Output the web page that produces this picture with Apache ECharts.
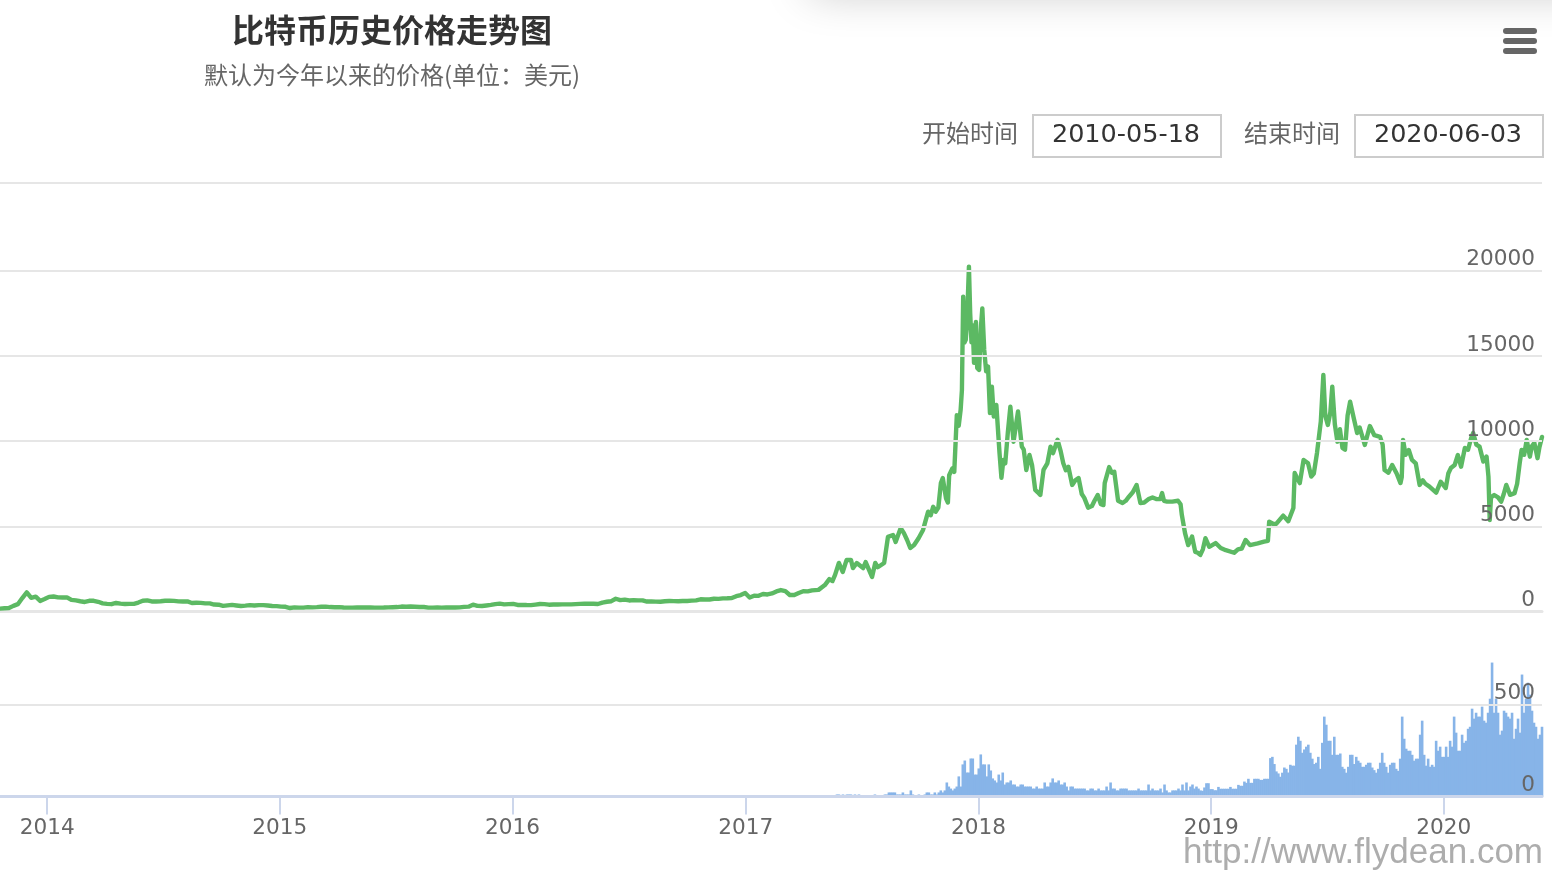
<!DOCTYPE html>
<html><head><meta charset="utf-8">
<style>html,body{margin:0;padding:0;background:#fff}#c{width:1552px;height:880px}</style>
<script src="https://cdn.jsdelivr.net/npm/echarts@6/dist/echarts.min.js"></script>
</head><body><div id="c"></div>
<script>
const titleText = '比特币历史价格走势图';
const subtitleText = '默认为今年以来的价格(单位：美元)';
const startLabel = '开始时间', endLabel = '结束时间';
const startValue = '2010-05-18', endValue = '2020-06-03';
const watermark = 'http://www.flydean.com';
const yearTicks = ['2014-01-01','2015-01-01','2016-01-01','2017-01-01','2018-01-01','2019-01-01','2020-01-01'];

// weekly closes from 2013-10-19
const earlyPrices = [170,190,205,330,430,790,1120,800,870,620,730,860,880,830,820,830,680,650,600,560,630,630,570,480,450,430,500,460,440,450,450,525,630,655,590,590,600,630,635,625,595,585,590,500,515,505,480,475,410,400,330,362,390,355,325,345,375,350,375,375,350,320,315,285,275,205,245,225,225,255,245,255,275,285,260,250,255,235,225,230,235,243,237,240,230,225,232,245,250,260,290,280,290,280,265,262,230,230,235,230,233,235,238,245,270,285,400,330,325,355,390,435,465,420,435,450,385,390,378,375,405,440,433,400,412,408,418,420,420,430,445,455,460,455,440,525,570,605,750,665,700,650,665,655,655,585,585,580,570,600,620,608,605,615,620,640,655,715,705,705,750,740,770,775,790,900,965,1090,820,925,920,1030,1000,1060,1180,1260,1200,970,970,1090,1190,1180,1240];
const lateDates = ['2017-04-25','2017-05-05','2017-05-12','2017-05-17','2017-05-21','2017-05-27','2017-06-02','2017-06-08','2017-06-15','2017-06-18','2017-06-24','2017-07-04','2017-07-08','2017-07-18','2017-07-23','2017-07-27','2017-08-06','2017-08-12','2017-08-20','2017-08-24','2017-09-01','2017-09-06','2017-09-11','2017-09-16','2017-09-22','2017-09-29','2017-10-06','2017-10-12','2017-10-14','2017-10-18','2017-10-22','2017-10-26','2017-10-30','2017-11-03','2017-11-06','2017-11-11','2017-11-14','2017-11-16','2017-11-21','2017-11-24','2017-11-28','2017-12-01','2017-12-04','2017-12-06','2017-12-08','2017-12-10','2017-12-12','2017-12-14','2017-12-17','2017-12-19','2017-12-21','2017-12-23','2017-12-25','2017-12-28','2017-12-30','2018-01-02','2018-01-05','2018-01-07','2018-01-10','2018-01-13','2018-01-16','2018-01-19','2018-01-22','2018-01-25','2018-01-29','2018-02-03','2018-02-06','2018-02-09','2018-02-12','2018-02-16','2018-02-20','2018-02-25','2018-03-01','2018-03-04','2018-03-10','2018-03-13','2018-03-17','2018-03-22','2018-03-26','2018-03-31','2018-04-04','2018-04-08','2018-04-13','2018-04-19','2018-04-24','2018-04-28','2018-05-05','2018-05-10','2018-05-14','2018-05-18','2018-05-22','2018-05-28','2018-06-02','2018-06-07','2018-06-12','2018-06-16','2018-06-22','2018-06-28','2018-07-02','2018-07-07','2018-07-12','2018-07-16','2018-07-18','2018-07-25','2018-07-29','2018-08-02','2018-08-08','2018-08-15','2018-08-20','2018-08-25','2018-08-31','2018-09-06','2018-09-12','2018-09-18','2018-09-25','2018-10-01','2018-10-07','2018-10-13','2018-10-16','2018-10-19','2018-10-24','2018-11-01','2018-11-10','2018-11-14','2018-11-16','2018-11-21','2018-11-26','2018-12-02','2018-12-07','2018-12-11','2018-12-15','2018-12-19','2018-12-23','2018-12-29','2019-01-08','2019-01-16','2019-01-24','2019-02-06','2019-02-12','2019-02-18','2019-02-24','2019-03-03','2019-03-15','2019-03-25','2019-03-31','2019-04-02','2019-04-08','2019-04-13','2019-04-24','2019-05-02','2019-05-10','2019-05-12','2019-05-15','2019-05-20','2019-05-26','2019-06-02','2019-06-07','2019-06-11','2019-06-16','2019-06-22','2019-06-26','2019-06-29','2019-07-03','2019-07-07','2019-07-10','2019-07-14','2019-07-18','2019-07-22','2019-07-26','2019-07-30','2019-08-03','2019-08-07','2019-08-13','2019-08-18','2019-08-22','2019-08-30','2019-09-07','2019-09-14','2019-09-23','2019-09-27','2019-09-30','2019-10-06','2019-10-12','2019-10-19','2019-10-25','2019-10-27','2019-10-29','2019-11-02','2019-11-07','2019-11-12','2019-11-18','2019-11-24','2019-11-29','2019-12-03','2019-12-09','2019-12-20','2019-12-27','2020-01-04','2020-01-08','2020-01-12','2020-01-18','2020-01-23','2020-01-28','2020-02-03','2020-02-08','2020-02-13','2020-02-16','2020-02-21','2020-02-26','2020-03-03','2020-03-08','2020-03-10','2020-03-11','2020-03-13','2020-03-15','2020-03-20','2020-03-26','2020-03-31','2020-04-04','2020-04-08','2020-04-14','2020-04-21','2020-04-25','2020-04-29','2020-05-02','2020-05-06','2020-05-10','2020-05-15','2020-05-18','2020-05-22','2020-05-27','2020-05-30','2020-06-03'];
const latePrices = [1270,1550,1900,1790,2150,2850,2320,3020,3020,2550,2850,2550,2900,2030,2850,2600,2850,4380,4490,4080,4900,4600,4200,3730,3900,4300,4790,5600,5860,5650,6150,5860,6100,7540,7840,6650,6400,8000,8400,8200,11530,10900,11840,13000,18490,15800,15950,17000,20250,17500,15800,16800,14600,17000,14300,14180,16800,17800,15360,14100,14380,11650,13200,11440,12130,9300,7850,8900,8700,10500,12030,9970,11000,11740,9680,9500,8310,9190,8600,7140,7000,6840,8310,8700,9680,9300,10080,9400,8700,8300,8500,7430,7700,7840,6900,6670,6100,6190,6500,6840,6300,6250,7540,8480,8150,8210,6500,6370,6500,6740,7000,7430,6370,6400,6600,6700,6600,6600,6950,6500,6450,6450,6500,6300,5670,4600,3900,4400,3500,3450,3320,3650,4300,3800,4020,3730,3600,3450,3650,3700,4200,3900,4000,4100,4150,5270,5150,5140,5630,5300,6080,8130,7900,7540,8900,8700,7920,8100,9300,11150,13890,11500,10950,11700,13200,11000,9970,10700,9600,9500,11500,12320,11300,10480,10800,9780,10890,10350,10250,9800,8310,8150,8600,8100,7540,7900,10070,9200,9480,8900,8700,7430,7700,7500,7350,6980,7620,7250,8100,8420,8600,9190,8500,9600,9500,10200,10480,9800,9680,8800,9100,9190,7920,5370,6700,6840,6700,6450,6900,7430,6850,6950,7500,8700,9480,9200,10070,9090,9700,9900,9000,9650,10250];

// volume bars, oldest first
const volumes = [11,11,0,11,0,11,11,11,0,11,0,11,0,0,0,0,0,0,0,11,0,0,0,0,11,11,22,22,22,22,11,11,11,22,11,11,11,33,11,0,0,11,0,0,11,22,22,11,11,22,11,22,33,22,33,76,54,43,33,43,54,109,54,174,195,130,130,206,206,119,119,152,228,174,174,109,174,141,98,87,76,119,87,130,65,76,76,87,65,65,54,54,65,65,54,54,54,54,43,43,54,43,43,43,76,54,54,76,98,76,76,87,65,65,76,54,33,54,54,43,43,43,43,43,43,33,33,43,43,33,33,43,33,33,33,54,33,76,43,43,33,33,43,43,43,43,33,33,33,33,33,43,33,33,33,33,65,33,43,33,33,33,43,22,65,33,22,22,33,33,33,43,33,65,33,76,33,54,65,43,54,43,33,31,49,72,72,40,40,34,34,52,42,42,42,42,42,52,42,42,42,63,58,58,81,74,96,74,74,96,96,96,90,90,96,96,96,208,215,176,136,125,107,129,157,150,130,172,167,167,281,324,302,237,255,270,281,237,205,176,183,215,150,291,433,389,302,302,226,324,226,226,233,161,150,129,161,226,226,176,215,194,183,161,161,172,183,183,157,143,129,150,183,237,183,161,129,172,183,183,150,139,205,433,313,259,248,248,226,194,205,205,335,411,226,167,205,161,172,161,302,248,270,215,215,270,215,302,270,433,346,248,248,335,291,302,367,378,476,422,454,433,433,487,411,400,454,530,726,454,530,454,335,357,465,454,433,422,454,313,367,422,346,661,454,530,617,552,465,400,378,313,335,378];
const volumeFirstDate = '2017-05-24', lastDate = '2020-06-03', firstDate = '2013-10-19';

const DAY = 864e5;
const ts = d => Date.parse(d+'T00:00:00Z');
const priceData = earlyPrices.map((v,i)=>[ts(firstDate)+i*7*DAY,v])
  .concat(lateDates.map((d,i)=>[ts(d),latePrices[i]]));
const vs = ts(volumeFirstDate), ve = ts(lastDate);
const volumeData = volumes.map((v,i)=>[vs+(ve-vs)*i/(volumes.length-1),v]);
const tickStamps = yearTicks.map(ts);

const numFont = '"DejaVu Sans"', cjk = '"Noto Sans CJK SC"';
const xMin = ts(firstDate), xMax = ve;
const chart = echarts.init(document.getElementById('c'), null, {renderer:'canvas'});
const yLabel = {inside:true, margin:7, color:'#666', fontFamily:numFont, fontSize:21.6, verticalAlign:'bottom', padding:[0,0,0,0]};
chart.setOption({
  animation:false,
  backgroundColor:'#fff',
  title:[
    {text:titleText, left:387, top:9, textAlign:'center', textStyle:{fontFamily:cjk, fontSize:32, fontWeight:'bold', color:'#333'}},
    {text:subtitleText, left:387, top:58, textAlign:'center', textStyle:{fontFamily:cjk, fontSize:24, fontWeight:'normal', color:'#666'}}
  ],
  grid:[
    {left:0, right:10, top:185.7, height:425.8},
    {left:0, right:10, top:612, height:184.5}
  ],
  xAxis:[
    {type:'value', gridIndex:0, min:xMin, max:xMax, z:3, axisLabel:{show:false}, axisTick:{show:false}, splitLine:{show:false},
     axisLine:{show:true, lineStyle:{color:'#e6e6e6', width:3}}},
    {type:'value', gridIndex:1, min:xMin, max:xMax, z:3, splitLine:{show:false},
     axisLine:{show:true, lineStyle:{color:'#ccd6eb', width:3}},
     axisTick:{show:true, length:18, customValues:tickStamps, lineStyle:{color:'#ccd6eb', width:2}},
     axisLabel:{customValues:tickStamps, formatter:v=>String(new Date(v).getUTCFullYear()), color:'#666', fontFamily:numFont, fontSize:21.6, margin:21, hideOverlap:false}}
  ],
  yAxis:[
    {type:'value', gridIndex:0, position:'right', min:0, max:25000, interval:5000, z:5,
     axisLine:{show:false}, axisTick:{show:false},
     splitLine:{showMinLine:false, showMaxLine:false, lineStyle:{color:'#e6e6e6', width:2}},
     axisLabel:{...yLabel, formatter:v=>v>20000?'':String(v)}},
    {type:'value', gridIndex:1, position:'right', min:0, max:1000, interval:500, z:5,
     axisLine:{show:false}, axisTick:{show:false},
     splitLine:{showMinLine:false, lineStyle:{color:'#e6e6e6', width:2}},
     axisLabel:{...yLabel, formatter:v=>v>500?'':String(v)}}
  ],
  series:[
    {type:'line', name:'价格', xAxisIndex:0, yAxisIndex:0, data:priceData, showSymbol:false, symbol:'none', smooth:false, z:4,
     lineStyle:{color:'#5cb963', width:4.4, join:'round', cap:'round'}},
    {type:'bar', name:'成交量', xAxisIndex:1, yAxisIndex:1, data:volumeData, barWidth:2.6, itemStyle:{color:'#87b4e8'}}
  ],
  graphic:[
    {type:'rect', silent:true, shape:{x:810,y:-40,width:900,height:30}, style:{fill:'#fff', shadowBlur:45, shadowColor:'rgba(0,0,0,0.28)'}},
    {type:'rect', silent:true, shape:{x:0,y:182,width:1542,height:2}, style:{fill:'#e6e6e6'}},
    {type:'rect', silent:true, shape:{x:1503,y:28,width:34,height:6,r:3}, style:{fill:'#666'}},
    {type:'rect', silent:true, shape:{x:1503,y:38,width:34,height:6,r:3}, style:{fill:'#666'}},
    {type:'rect', silent:true, shape:{x:1503,y:48,width:34,height:6,r:3}, style:{fill:'#666'}},
    {type:'text', x:970, y:133, style:{text:startLabel, font:'24px '+cjk, fill:'#666', align:'center', verticalAlign:'middle'}},
    {type:'rect', shape:{x:1033,y:115,width:188,height:42}, style:{fill:'#fff', stroke:'#ccc', lineWidth:2}},
    {type:'text', x:1126, y:135.5, style:{text:startValue, font:'25.5px '+numFont, fill:'#333', align:'center', verticalAlign:'middle'}},
    {type:'text', x:1292, y:133, style:{text:endLabel, font:'24px '+cjk, fill:'#666', align:'center', verticalAlign:'middle'}},
    {type:'rect', shape:{x:1355,y:115,width:188,height:42}, style:{fill:'#fff', stroke:'#ccc', lineWidth:2}},
    {type:'text', x:1448, y:135.5, style:{text:endValue, font:'25.5px '+numFont, fill:'#333', align:'center', verticalAlign:'middle'}},
    {type:'text', x:1543, y:853, z:10, style:{text:watermark, font:'35px "Liberation Sans"', fill:'#adadad', align:'right', verticalAlign:'middle'}}
  ]
});
</script></body></html>
